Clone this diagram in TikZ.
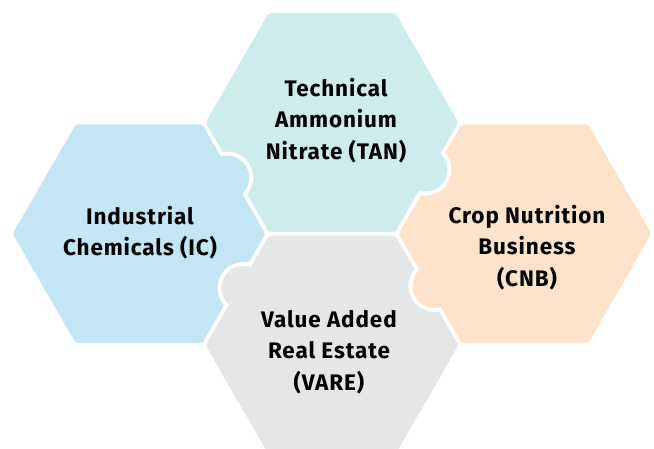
\documentclass[tikz,border=0pt]{standalone}
\usepackage{fontspec}
\setmainfont{Fira Sans}[LetterSpace=4]
\usetikzlibrary{calc}
\definecolor{tancol}{HTML}{CDECEB}
\definecolor{iccol}{HTML}{C4E6F4}
\definecolor{cnbcol}{HTML}{FDE3CB}
\definecolor{varecol}{HTML}{E5E6E8}
\begin{document}
\begin{tikzpicture}[x=1pt,y=-1pt,
  hexfill/.style={rounded corners=3pt},
  hexlabel/.style={align=center, text=black, inner sep=0pt,
    font=\fontsize{22.5}{31.5}\selectfont\bfseries}]
\useasboundingbox (0,0) rectangle (654,449);
% tile centres
\coordinate (cTAN) at (332,122.4);
\coordinate (cIC) at (139,233.8);
\coordinate (cCNB) at (525,233.8);
\coordinate (cVARE) at (332,345.2);
% hexagon bodies (inset)
\foreach \c/\col in {cTAN/tancol, cIC/iccol, cCNB/cnbcol, cVARE/varecol}{
  \begin{scope}[shift={(\c)}]
    \fill[hexfill, \col] (0:126.4) -- (60:126.4) -- (120:126.4) -- (180:126.4)
      -- (240:126.4) -- (300:126.4) -- cycle;
  \end{scope}
}
% knob centres
\coordinate (kICTAN) at (227.2,177.6);
\coordinate (kTANCNB) at (425.4,169.6);
\coordinate (kCNBVARE) at (434.5,286);
\coordinate (kVAREIC) at (243.4,288);
% notches (white), clipped to the receiving tile
\foreach \k/\c in {kICTAN/cTAN, kTANCNB/cCNB, kCNBVARE/cVARE, kVAREIC/cIC}{
  \begin{scope}
    \clip[shift={(\c)}] (0:128.7) -- (60:128.7) -- (120:128.7) -- (180:128.7)
      -- (240:128.7) -- (300:128.7) -- cycle;
    \fill[white] (\k) circle (26);
  \end{scope}
}
% knobs
\foreach \k/\col in {kICTAN/iccol, kTANCNB/tancol, kCNBVARE/cnbcol, kVAREIC/varecol}{
  \fill[\col] (\k) circle (22);
}
% labels
\node[hexlabel] (tTAN) at (336,120.5) {Technical\\Ammonium\\Nitrate (TAN)};
\node[hexlabel] (tIC) at (140,232.5) {Industrial\\Chemicals (IC)};
\node[hexlabel] (tCNB) at (527,247.5) {Crop Nutrition\\Business\\(CNB)};
\node[hexlabel] (tVARE) at (329,352) {Value Added\\Real Estate\\(VARE)};
\end{tikzpicture}
\end{document}
